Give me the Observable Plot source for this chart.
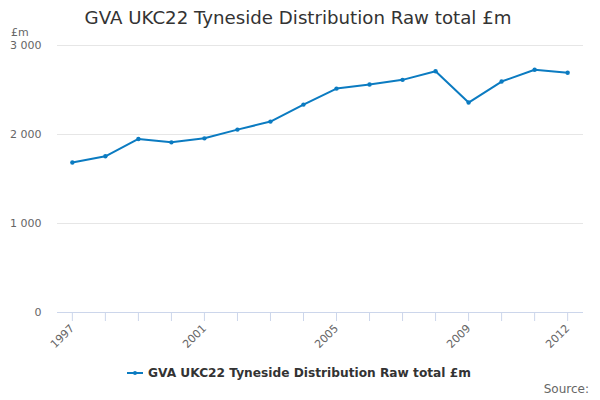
<!DOCTYPE html>
<html>
<head>
<meta charset="utf-8">
<script src="https://cdn.jsdelivr.net/npm/d3@7"></script>
<script src="https://cdn.jsdelivr.net/npm/@observablehq/plot@0.6"></script>
<style>
  body { margin: 0; width: 600px; height: 400px; position: relative; background: #fff; font-family: "DejaVu Sans", sans-serif; overflow: hidden; }
  #title { position: absolute; left: 0; top: 7px; width: 596px; text-align: center; font-size: 18.2px; line-height: 22px; color: #333; }
  #unit { position: absolute; left: 11px; top: 26px; font-size: 11px; line-height: 13px; color: #666; }
  #chart { position: absolute; left: 0; top: 24px; }
  #legend { position: absolute; left: 0; top: 365px; width: 598px; display: flex; justify-content: center; align-items: center; font-size: 12.2px; font-weight: bold; color: #333; line-height: 16px; }
  #legend svg { margin-right: 5px; }
  #source { position: absolute; right: 11px; top: 381px; font-size: 12px; line-height: 16px; color: #666; }
</style>
</head>
<body>
<div id="title">GVA UKC22 Tyneside Distribution Raw total £m</div>
<div id="unit">£m</div>
<div id="chart"></div>
<div id="legend"><svg width="16" height="10"><line x1="0" x2="16" y1="5" y2="5" stroke="#0b7bc1" stroke-width="2"/><circle cx="8" cy="5" r="2" fill="#0b7bc1"/></svg><span>GVA UKC22 Tyneside Distribution Raw total £m</span></div>
<div id="source">Source:</div>
<script>
const years = [1997, 1998, 1999, 2000, 2001, 2002, 2003, 2004, 2005, 2006, 2007, 2008, 2009, 2010, 2011, 2012];
const values = [1685, 1755, 1950, 1912, 1957, 2055, 2145, 2336, 2516, 2561, 2614, 2711, 2359, 2595, 2727, 2693];
const labelYears = [1997, 2001, 2005, 2009, 2012];
const yTicks = [0, 1000, 2000, 3000];
const color = "#0b7bc1";

const data = years.map((year, i) => ({year, value: values[i]}));
const fmt = d => d3.format(",")(d).replace(/,/g, " ");

const chart = Plot.plot({
  width: 600,
  height: 340,
  marginTop: 21,
  marginBottom: 52,
  marginLeft: 57,
  marginRight: 17,
  style: { fontFamily: "DejaVu Sans, sans-serif", fontSize: "11px", background: "transparent" },
  x: { type: "linear", domain: [1996.55, 2012.48] },
  y: { domain: [0, 3000] },
  marks: [
    Plot.gridY(yTicks, { stroke: "#e6e6e6", strokeOpacity: 1 }),
    Plot.ruleY([0], { stroke: "#ccd6eb", strokeOpacity: 1 }),
    Plot.axisY(yTicks, { tickSize: 0, tickPadding: 16, tickFormat: fmt, fill: "#666", label: null }),
    Plot.axisX(years, { tickSize: 9, stroke: "#ccd6eb", strokeOpacity: 1, tickRotate: -45, tickPadding: 5,
      tickFormat: d => labelYears.includes(d) ? String(d) : "", fill: "#666", label: null }),
    Plot.line(data, { x: "year", y: "value", stroke: color, strokeWidth: 2 }),
    Plot.dot(data, { x: "year", y: "value", fill: color, r: 2.2 })
  ]
});
document.getElementById("chart").appendChild(chart);
</script>
</body>
</html>
